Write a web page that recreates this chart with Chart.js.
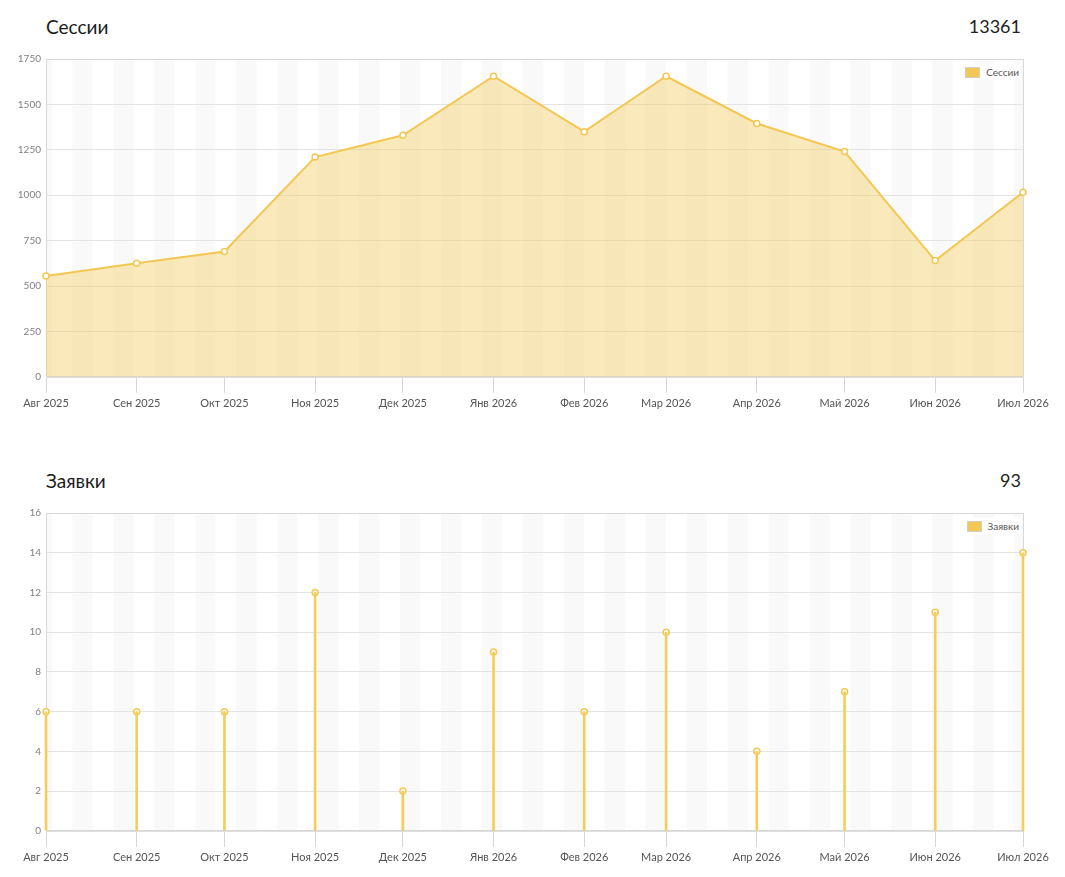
<!DOCTYPE html>
<html>
<head>
<meta charset="utf-8">
<script src="https://cdn.jsdelivr.net/npm/chart.js@4.4.1/dist/chart.umd.min.js"></script>
<style>
  body { margin: 0; background: #fff; font-family: Lato, "Noto Sans", sans-serif; }
  .block { position: relative; width: 1065px; height: 454px; }
  .title { position: absolute; left: 46px; top: 15px; font-size: 19px; color: #1c1c1c; }
  .total { position: absolute; right: 44px; top: 15px; font-size: 18px; color: #222; }
  .chart-box { position: absolute; left: 0; top: 48px; width: 1065px; height: 370px; }
  .legend { position: absolute; right: 44px; top: 64px; background: #fff; padding: 2px 2px 2px 3px;
    font-size: 10px; color: #555; display: flex; align-items: center; z-index: 2; }
  .legend i { display: inline-block; width: 13px; height: 9px; background: #f3c752;
    border: 1px solid #cfcfcf; margin-right: 6px; }
</style>
</head>
<body>
<div class="block">
  <div class="title">Сессии</div>
  <div class="total" id="sessionsTotal"></div>
  <div class="legend" id="sessionsLegend"></div>
  <div class="chart-box"><canvas id="sessionsChart"></canvas></div>
</div>
<div class="block">
  <div class="title">Заявки</div>
  <div class="total" id="leadsTotal"></div>
  <div class="legend" id="leadsLegend"></div>
  <div class="chart-box"><canvas id="leadsChart"></canvas></div>
</div>
<script>
const monthDates = ['2025-08-01', '2025-09-01', '2025-10-01', '2025-11-01', '2025-12-01', '2026-01-01',
  '2026-02-01', '2026-03-01', '2026-04-01', '2026-05-01', '2026-06-01', '2026-07-01'];
const monthLabels = ['Авг 2025', 'Сен 2025', 'Окт 2025', 'Ноя 2025', 'Дек 2025', 'Янв 2026',
  'Фев 2026', 'Мар 2026', 'Апр 2026', 'Май 2026', 'Июн 2026', 'Июл 2026'];
const sessions = [555, 625, 690, 1210, 1330, 1655, 1350, 1655, 1395, 1240, 640, 1016];
const leads = [6, 6, 6, 12, 2, 9, 6, 10, 4, 7, 11, 14];
const sessionsYTicks = [0, 250, 500, 750, 1000, 1250, 1500, 1750];
const leadsYTicks = [0, 2, 4, 6, 8, 10, 12, 14, 16];

const YELLOW = '#f3c752';
const DAY = 864e5;
const dayOf = (d) => (Date.parse(d) - Date.parse(monthDates[0])) / DAY;
const monthDays = monthDates.map(dayOf);

document.getElementById('sessionsTotal').textContent = sessions.reduce((a, b) => a + b, 0);
document.getElementById('leadsTotal').textContent = leads.reduce((a, b) => a + b, 0);

// every other week (sunday start) gets a faint grey band
const weekStripes = {
  id: 'weekStripes',
  beforeDraw(chart) {
    const { ctx, chartArea: a, scales: { x } } = chart;
    ctx.save();
    ctx.beginPath();
    ctx.rect(a.left, a.top, a.right - a.left, a.bottom - a.top);
    ctx.clip();
    ctx.fillStyle = 'rgba(0,0,0,0.024)';
    for (let d = dayOf('2025-07-27'); d < x.max; d += 14) {
      const x0 = x.getPixelForValue(d);
      const x1 = x.getPixelForValue(d + 7);
      ctx.fillRect(x0, a.top, x1 - x0, a.bottom - a.top);
    }
    ctx.restore();
  },
  beforeDatasetsDraw(chart) {
    const { ctx, chartArea: a } = chart;
    ctx.save();
    ctx.strokeStyle = '#d8d8d8';
    ctx.lineWidth = 1;
    ctx.strokeRect(a.left + 0.5, a.top + 0.5, a.right - a.left, a.bottom - a.top);
    ctx.restore();
  }
};

// html legend, top right inside the plot
function htmlLegend(id) {
  return {
    id: 'htmlLegend',
    afterUpdate(chart) {
      const el = document.getElementById(id);
      el.innerHTML = '';
      chart.data.datasets.filter((ds) => ds.label).forEach((ds) => {
        const box = document.createElement('i');
        const txt = document.createElement('span');
        txt.textContent = ds.label;
        el.appendChild(box);
        el.appendChild(txt);
      });
    }
  };
}

function xScale() {
  return {
    type: 'linear',
    min: monthDays[0],
    max: monthDays[monthDays.length - 1],
    offset: false,
    afterBuildTicks: (s) => { s.ticks = monthDays.map((v) => ({ value: v })); },
    ticks: {
      autoSkip: false,
      maxRotation: 0,
      padding: 4,
      color: '#555',
      font: { family: 'Lato', size: 11 },
      callback: (v) => monthLabels[monthDays.indexOf(v)]
    },
    grid: { drawOnChartArea: false, offset: false, tickLength: 16, tickWidth: 1, tickColor: '#d6d6d6' },
    border: { color: '#d8d8d8' }
  };
}

function yScale(tickList) {
  return {
    min: tickList[0],
    max: tickList[tickList.length - 1],
    afterFit: (s) => { s.width = 46; },
    afterBuildTicks: (s) => { s.ticks = tickList.map((v) => ({ value: v })); },
    ticks: { padding: 5, color: '#808080', font: { family: 'Lato', size: 10 }, callback: (v) => String(v) },
    grid: { drawTicks: false, color: '#e4e4e4' },
    border: { color: '#d8d8d8' }
  };
}

const layout = { padding: { top: 11, right: 42, bottom: 4, left: 0 } };

new Chart(document.getElementById('sessionsChart'), {
  type: 'line',
  data: {
    datasets: [{
      label: 'Сессии',
      data: sessions.map((v, i) => ({ x: monthDays[i], y: v })),
      borderColor: YELLOW,
      borderWidth: 2,
      backgroundColor: 'rgba(243,199,82,0.4)',
      fill: 'origin',
      tension: 0,
      pointRadius: 3,
      pointBorderWidth: 1.5,
      pointBackgroundColor: '#fff',
      pointBorderColor: YELLOW,
      clip: false
    }]
  },
  options: {
    responsive: true,
    maintainAspectRatio: false,
    animation: false,
    layout,
    scales: { x: xScale(), y: yScale(sessionsYTicks) },
    plugins: { legend: { display: false }, tooltip: { enabled: false } }
  },
  plugins: [weekStripes, htmlLegend('sessionsLegend')]
});

new Chart(document.getElementById('leadsChart'), {
  type: 'bar',
  data: {
    datasets: [{
      type: 'bar',
      label: 'Заявки',
      data: leads.map((v, i) => ({ x: monthDays[i], y: v })),
      backgroundColor: '#f5cd5c',
      barThickness: 2,
      clip: false
    }, {
      type: 'line',
      label: '',
      data: leads.map((v, i) => ({ x: monthDays[i], y: v })),
      showLine: false,
      pointRadius: 3,
      pointBorderWidth: 1.5,
      pointBackgroundColor: '#fff',
      pointBorderColor: YELLOW,
      clip: false
    }]
  },
  options: {
    responsive: true,
    maintainAspectRatio: false,
    animation: false,
    layout,
    scales: { x: xScale(), y: yScale(leadsYTicks) },
    plugins: { legend: { display: false }, tooltip: { enabled: false } }
  },
  plugins: [weekStripes, htmlLegend('leadsLegend')]
});
</script>
</body>
</html>
